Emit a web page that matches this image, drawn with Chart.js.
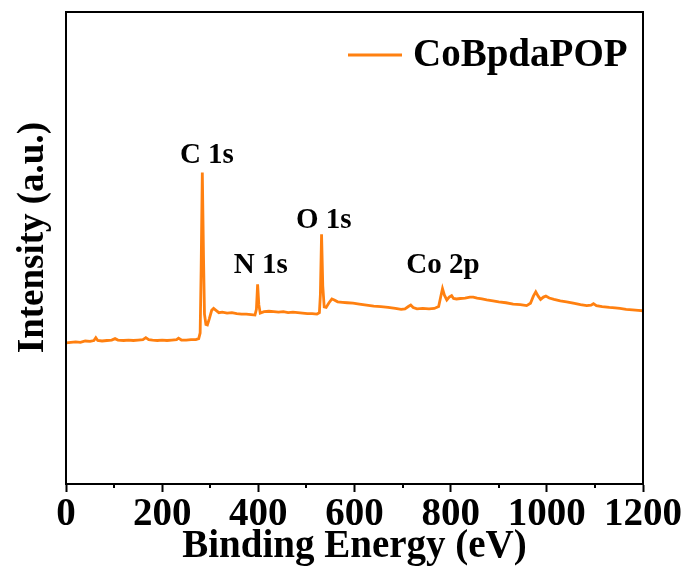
<!DOCTYPE html>
<html>
<head>
<meta charset="utf-8">
<script src="https://cdn.jsdelivr.net/npm/chart.js@4/dist/chart.umd.min.js"></script>
<style>
  html, body { margin: 0; padding: 0; background: #ffffff; }
  #wrap { width: 686px; height: 570px; }
</style>
</head>
<body>
<div id="wrap"><canvas id="xps" width="686" height="570"></canvas></div>
<script>
// XPS survey spectrum of CoBpdaPOP
const seriesName = 'CoBpdaPOP';
const xTitle = 'Binding Energy (eV)';
const yTitle = 'Intensity (a.u.)';

const bindingEnergy = [
  0, 10, 20, 30, 40, 50, 58, 62, 66, 75, 85, 95, 102, 108, 120, 130, 140, 150, 160, 166,
  172, 180, 190, 200, 210, 220, 230, 234, 240, 250, 260, 270, 276, 279, 281, 283.5, 286, 288, 291, 294,
  298, 303, 307, 312, 318, 325, 335, 345, 355, 365, 375, 385, 393, 396, 398.5, 401, 404, 412, 422, 432,
  442, 452, 462, 472, 482, 492, 502, 512, 522, 527, 529, 531.5, 534, 537, 541, 547, 553, 558, 565, 575,
  585, 597, 610, 625, 640, 655, 670, 685, 697, 705, 712, 717, 722, 730, 742, 755, 766, 775, 779, 783,
  787, 792, 797, 802, 806, 812, 820, 830, 840, 847, 855, 865, 875, 888, 900, 915, 930, 945, 958, 966,
  972, 977, 982, 987, 993, 998, 1005, 1015, 1028, 1041, 1055, 1070, 1083, 1092, 1097, 1103, 1115, 1130, 1142, 1152,
  1165, 1178, 1190, 1200
];

const intensity = [
  29.9, 30.0, 30.1, 30.0, 30.3, 30.2, 30.4, 31.0, 30.4, 30.3, 30.4, 30.5, 30.8, 30.5, 30.4, 30.5, 30.4, 30.5, 30.6, 31.0,
  30.6, 30.5, 30.4, 30.5, 30.4, 30.5, 30.6, 30.9, 30.5, 30.5, 30.6, 30.6, 30.8, 32.0, 45.0, 66.0, 48.0, 36.0, 33.8, 33.7,
  35.0, 36.8, 37.2, 36.8, 36.3, 36.4, 36.2, 36.3, 36.1, 36.0, 36.0, 35.9, 35.8, 37.0, 42.3, 38.0, 36.2, 36.5, 36.6, 36.5,
  36.4, 36.5, 36.3, 36.4, 36.3, 36.2, 36.1, 36.1, 36.0, 36.3, 40.0, 52.9, 42.0, 37.5, 37.4, 38.4, 39.2, 39.0, 38.6, 38.5,
  38.4, 38.3, 38.1, 37.9, 37.7, 37.6, 37.4, 37.2, 37.0, 37.1, 37.6, 37.9, 37.4, 37.1, 37.2, 37.1, 37.2, 37.6, 39.5, 41.4,
  40.0, 39.0, 39.6, 39.9, 39.3, 39.2, 39.3, 39.4, 39.6, 39.6, 39.4, 39.2, 39.0, 38.8, 38.6, 38.4, 38.1, 38.0, 37.8, 38.3,
  39.8, 40.7, 39.8, 39.1, 39.6, 39.8, 39.4, 39.1, 38.8, 38.6, 38.3, 38.0, 37.8, 37.9, 38.2, 37.8, 37.6, 37.4, 37.3, 37.2,
  37.0, 36.9, 36.8, 36.7
];

// Peak assignments and where their labels sit (energy, intensity)
const peakLabels = ['C 1s', 'N 1s', 'O 1s', 'Co 2p'];
const labelEnergy = [293, 405, 536, 784];
const labelIntensity = [69.7, 46.2, 55.9, 46.2];

const xMin = 0, xMax = 1200, xMajorStep = 200, xMinorStep = 100;
const yMin = 0, yMax = 100;

const lineColor = '#ff8010';
const inkColor = '#000000';
const serif = '"Liberation Serif", "Times New Roman", serif';

const points = bindingEnergy.map((e, i) => ({ x: e, y: intensity[i] }));

// Frame, minor ticks, intensity title, peak labels and the in-plot legend
const decorations = {
  id: 'decorations',
  afterDatasetsDraw(chart) {
    const { ctx, chartArea: a, scales } = chart;
    const xs = scales.x, ys = scales.y;
    ctx.save();
    ctx.strokeStyle = inkColor;
    ctx.lineWidth = 2;
    ctx.strokeRect(a.left, a.top, a.right - a.left, a.bottom - a.top);

    // minor ticks on the energy axis
    for (let v = xMinorStep; v < xMax; v += xMajorStep) {
      const px = Math.round(xs.getPixelForValue(v));
      ctx.beginPath();
      ctx.moveTo(px, a.bottom);
      ctx.lineTo(px, a.bottom + 4);
      ctx.stroke();
    }

    // vertical axis title
    ctx.fillStyle = inkColor;
    ctx.save();
    ctx.translate(33, a.top + (a.bottom - a.top) * 0.478);
    ctx.rotate(-Math.PI / 2);
    ctx.font = 'bold 37px ' + serif;
    ctx.textAlign = 'center';
    ctx.textBaseline = 'middle';
    ctx.fillText(yTitle, 0, 0);
    ctx.restore();

    // peak labels
    ctx.font = 'bold 29px ' + serif;
    ctx.textAlign = 'center';
    ctx.textBaseline = 'middle';
    peakLabels.forEach((t, i) => {
      ctx.fillText(t, xs.getPixelForValue(labelEnergy[i]), ys.getPixelForValue(labelIntensity[i]));
    });

    // legend
    const ly = a.top + 43;
    ctx.strokeStyle = lineColor;
    ctx.lineWidth = 3;
    ctx.beginPath();
    ctx.moveTo(a.right - 295, ly);
    ctx.lineTo(a.right - 241, ly);
    ctx.stroke();
    ctx.font = 'bold 39px ' + serif;
    ctx.textAlign = 'left';
    ctx.textBaseline = 'middle';
    ctx.fillText(seriesName, a.right - 230, ly + 1);
    ctx.restore();
  }
};

new Chart(document.getElementById('xps'), {
  type: 'line',
  data: {
    datasets: [{
      label: seriesName,
      data: points,
      borderColor: lineColor,
      borderWidth: 2.8,
      pointRadius: 0,
      tension: 0,
      fill: false
    }]
  },
  options: {
    responsive: false,
    animation: false,
    layout: { padding: { top: 12, right: 43, left: 0, bottom: 0 } },
    plugins: {
      legend: { display: false },
      tooltip: { enabled: false }
    },
    scales: {
      x: {
        type: 'linear',
        min: xMin,
        max: xMax,
        afterFit(scale) { scale.height = 86; },
        grid: {
          display: true,
          drawOnChartArea: false,
          drawTicks: true,
          tickLength: 8,
          tickWidth: 2,
          tickColor: inkColor
        },
        border: { display: true, color: inkColor, width: 2 },
        ticks: {
          stepSize: xMajorStep,
          color: inkColor,
          padding: 0,
          maxRotation: 0,
          autoSkip: false,
          callback: (v) => String(v),
          font: { family: serif, size: 39, weight: 'bold' }
        },
        title: {
          display: true,
          text: xTitle,
          color: inkColor,
          padding: { top: -12, bottom: 0 },
          font: { family: serif, size: 39, weight: 'bold' }
        }
      },
      y: {
        min: yMin,
        max: yMax,
        afterFit(scale) { scale.width = 66; },
        grid: { display: false },
        border: { display: true, color: inkColor, width: 2 },
        ticks: { display: false },
        title: { display: false }
      }
    }
  },
  plugins: [decorations]
});
</script>
</body>
</html>
